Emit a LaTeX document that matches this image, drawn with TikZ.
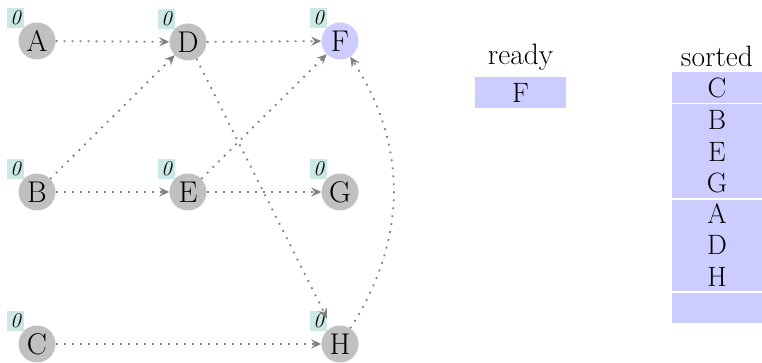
\documentclass[tikz,border=0pt]{standalone}
\usetikzlibrary{arrows.meta}
\definecolor{nodegray}{HTML}{C0C0C0}
\definecolor{fblue}{HTML}{CCCCFF}
\definecolor{lblteal}{HTML}{CCE8E4}
\definecolor{edgegray}{HTML}{808080}
\begin{document}
\begin{tikzpicture}[x=1pt,y=1pt,
  lbl/.style={anchor=south east, fill=lblteal, inner xsep=2.8pt, inner ysep=2.5pt,
    font=\fontsize{21}{21}\selectfont\itshape},
  vert/.style={circle, fill=nodegray, minimum size=37pt, inner sep=0pt,
    font=\fontsize{30}{32}\selectfont, label={[lbl]north west:0}},
  vertf/.style={vert, fill=fblue},
  edge/.style={draw=edgegray, line width=1.8pt, dash pattern=on 1.8pt off 6.2pt,
    -{Stealth[length=10pt,width=9pt,inset=3.5pt,fill=edgegray]}},
  boxc/.style={fill=fblue, draw=none},
  txt/.style={font=\fontsize{29.5}{31}\selectfont, inner sep=0pt},
  ltr/.style={font=\fontsize{28}{30}\selectfont, inner sep=0pt}
]
\useasboundingbox (0,0) rectangle (762,363);
% graph nodes
\node[vert]  (A) at (37,322) {A};
\node[vert]  (D) at (188,321) {D};
\node[vertf] (F) at (340,322) {F};
\node[vert]  (B) at (37,171) {B};
\node[vert]  (E) at (188,171) {E};
\node[vert]  (G) at (340,171) {G};
\node[vert]  (C) at (37,19) {C};
\node[vert]  (H) at (340,19) {H};
% edges
\draw[edge] (A) -- (D);
\draw[edge] (D) -- (F);
\draw[edge] (B) -- (D);
\draw[edge] (B) -- (E);
\draw[edge] (E) -- (F);
\draw[edge] (E) -- (G);
\draw[edge, shorten >=10pt] (D) -- (H);
\draw[edge] (C) -- (H);
\draw[edge] (H) to[bend right=33] (F);
% ready
\node[txt, anchor=base] (readyt) at (520.5,298) {ready};
\node[boxc, minimum width=91pt, minimum height=31pt, inner sep=0pt] (readybox) at (520.5,270.5) {};
\node[ltr] (readyF) at (readybox.center) {F};
% sorted
\node[txt, anchor=base] (sortedt) at (717,296) {sorted};
\fill[fblue] (672,291) rectangle (762,260);
\fill[fblue] (672,258.5) rectangle (762,164.5);
\fill[fblue] (672,163) rectangle (762,71.5);
\fill[fblue] (672,70) rectangle (762,40);
\node[ltr] (sC) at (717,275) {C};
\node[ltr] (sB) at (717,243) {B};
\node[ltr] (sE) at (717,211) {E};
\node[ltr] (sG) at (717,180) {G};
\node[ltr] (sA) at (717,149) {A};
\node[ltr] (sD) at (717,118) {D};
\node[ltr] (sH) at (717,86) {H};
\end{tikzpicture}
\end{document}
